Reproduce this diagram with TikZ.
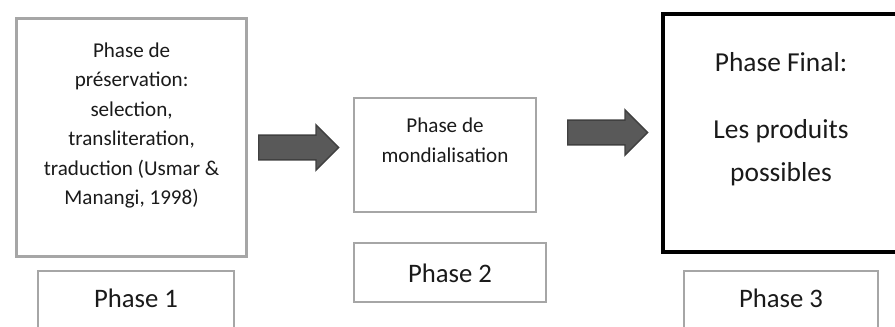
\documentclass[tikz,border=0pt]{standalone}
\usepackage{fontspec}
\setmainfont{Carlito}
\usepackage{xcolor}
\usepackage{tikz}
\usetikzlibrary{positioning}
\usetikzlibrary{shapes.arrows}
\definecolor{boxgray}{HTML}{A6A6A6}
\definecolor{arrfill}{HTML}{595959}
\definecolor{arrline}{HTML}{404040}
\definecolor{txtdark}{HTML}{1A1A1A}
\tikzstyle{phasebox} = [rectangle, draw=boxgray, line width=2.1pt, inner sep=0, outer sep=0]
\tikzstyle{phaselab} = [rectangle, draw=boxgray, line width=2.1pt, anchor=north, outer sep=0, inner ysep=0.3cm, text=txtdark, font=\fontsize{19}{23}\selectfont]
\tikzstyle{boxtxt} = [draw=none, align=center, anchor=north, inner sep=0, outer sep=0, text=txtdark, font=\fontsize{15}{21}\selectfont]
\tikzstyle{blockarr} = [single arrow, draw=arrline, fill=arrfill, line width=1pt, inner sep=0.29cm, single arrow head extend=0.26cm, minimum height=2cm, anchor=tail]

\begin{document}
\begin{tikzpicture}
\useasboundingbox (0,0) rectangle (22.375,8.175);
\clip (0,0) rectangle (22.375,8.175);
% the three phases
\node [phasebox, minimum width=5.75cm, minimum height=5.95cm] (P1) at (3.29, 4.74) {};
\node [phasebox, minimum width=4.55cm, minimum height=2.85cm] (P2) at (11.125, 4.3) {};
\node [phasebox, draw=black, line width=3pt, minimum width=5.9cm, minimum height=5.95cm] (P3) at (19.525, 4.85) {};
\node [boxtxt, below=0.6cm of P1.north] (T1) {Phase de\\pr\'eservation:\\selection,\\transliteration,\\traduction (Usmar \&\\Manangi, 1998)};
\node [boxtxt, below=0.5cm of P2.north, font=\fontsize{15}{21.3}\selectfont] (T2) {Phase de\\mondialisation};
\node [boxtxt, below=0.96cm of P3.north, font=\fontsize{19.5}{30.6}\selectfont] (T3) {Phase Final:\\[0.6cm]Les produits\\possibles};
% labels under the boxes
\node [phaselab, minimum width=4.9cm, text height=0.625cm, text depth=0.5cm] (L1) at (3.4, 1.4) {Phase 1};
\node [phaselab, minimum width=4.8cm, text height=0.7cm, text depth=0.175cm] (L2) at (11.25, 2.1) {Phase 2};
\node [phaselab, minimum width=4.85cm, text height=0.625cm, text depth=0.5cm] (L3) at (19.525, 1.4) {Phase 3};
% block arrows
\node [blockarr] (R1) at (6.45, 4.4875) {};
\node [blockarr] (R2) at (14.175, 4.8625) {};
\end{tikzpicture}
\end{document}
